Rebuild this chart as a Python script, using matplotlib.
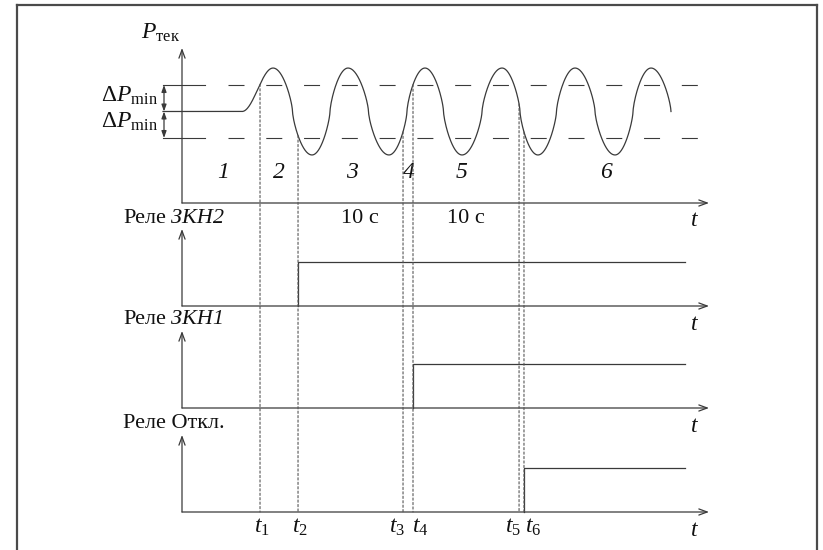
import matplotlib.pyplot as plt
import numpy as np
from matplotlib.patches import ConnectionPatch
from matplotlib.lines import Line2D

plt.rcParams['font.family'] = ['Liberation Serif', 'DejaVu Serif']
plt.rcParams['mathtext.fontset'] = 'custom'
plt.rcParams['mathtext.rm'] = 'Liberation Serif'
plt.rcParams['mathtext.it'] = 'Liberation Serif:italic'

# ---- data (time in s, pressure in units of dP_min around nominal) ----
t_marks = [7.43, 11.05, 21.05, 22.0, 32.1, 32.57]
t_names = ['$t_1$', '$t_2$', '$t_3$', '$t_4$', '$t_5$', '$t_6$']
dp_min = 1.0
flat_start = -1.81
rise_start = 5.71
ext_t = [8.67, 12.38, 15.81, 19.71, 23.14, 26.67, 30.48, 33.90, 37.43, 41.24, 44.67]
ext_p = [1.64, -1.64, 1.64, -1.64, 1.64, -1.64, 1.64, -1.64, 1.64, -1.64, 1.64]
wave_end = 46.57
zone_names = ['1', '2', '3', '4', '5', '6']
zone_t = [3.9, 9.24, 16.19, 21.62, 26.67, 40.38]
relay_names = ['Реле', 'Реле', 'Реле Откл.']
relay_codes = ['ЗКН2', 'ЗКН1', '']
relay_on = [t_marks[1], t_marks[3], t_marks[5]]
relay_end = 47.9
delay_text = ['10 с', '10 с']
delay_t = [16.95, 27.05]

# ---- layout (pixels) ----
W, H = 823, 550
org_x, px_per_s = 182, 10.5
p_mid_px, px_per_dp = 111.5, 26.5
relay_base = [306, 408, 512]
px_per_relay = 44
X0, X1 = (0 - org_x) / px_per_s, (W - org_x) / px_per_s
t_axis_end = (709 - org_x) / px_per_s
line_c = '#3a3a3a'
ink = '#111111'

fig = plt.figure(figsize=(W / 100, H / 100), dpi=100)


def px_axes(top, bot, y_top, y_bot):
    ax = fig.add_axes([0, 1 - bot / H, 1, (bot - top) / H])
    ax.set_xlim(X0, X1)
    ax.set_ylim(y_bot, y_top)
    ax.axis('off')
    ax.patch.set_alpha(0)
    return ax


def arrow(ax, x0, y0, x1, y1, style='->,head_length=0.6,head_width=0.22', ms=10):
    ax.annotate('', xy=(x1, y1), xytext=(x0, y0), annotation_clip=False,
                arrowprops=dict(arrowstyle=style, lw=0.9, color=line_c,
                                shrinkA=0, shrinkB=0, mutation_scale=ms))


def wave_segment(ta, pa, tb, pb, q=0.7, u_end=1.0, n=80):
    u = np.linspace(0, u_end, n)
    c = np.cos(np.pi * u)
    shape = np.sign(c) * np.abs(c) ** q
    mid = (pa + pb) / 2
    return ta + (tb - ta) * u, mid + (pa - mid) * shape


# ---- pressure panel ----
ax1 = px_axes(0, 210, p_mid_px / px_per_dp, (p_mid_px - 210) / px_per_dp)
p_base = (p_mid_px - 203) / px_per_dp
p_tip = (p_mid_px - 48) / px_per_dp

ts = [np.array([flat_start, rise_start])]
ps = [np.array([0.0, 0.0])]
x, y = wave_segment(rise_start, 0.0, ext_t[0], ext_p[0], q=1.0)
ts.append(x); ps.append(y)
for i in range(len(ext_t) - 1):
    x, y = wave_segment(ext_t[i], ext_p[i], ext_t[i + 1], ext_p[i + 1])
    ts.append(x); ps.append(y)
x, y = wave_segment(ext_t[-1], ext_p[-1], 2 * wave_end - ext_t[-1], -ext_p[-1], u_end=0.5)
ts.append(x); ps.append(y)
curve_t = np.concatenate(ts)
curve_p = np.concatenate(ps)
ax1.plot(curve_t, curve_p, color=line_c, lw=0.9, clip_on=False)

# dP_min levels
for lvl in (dp_min, -dp_min):
    ax1.plot([flat_start, (205 - org_x) / px_per_s], [lvl, lvl], color=line_c, lw=0.8)
    ax1.plot([(228 - org_x) / px_per_s, (706 - org_x) / px_per_s], [lvl, lvl],
             color=line_c, lw=0.8, linestyle=(0, (14.4, 19.6)))

# axes
arrow(ax1, 0, p_base, 0, p_tip)
arrow(ax1, 0, p_base, t_axis_end, p_base)
ax1.text((695 - org_x) / px_per_s, (p_mid_px - 221) / px_per_dp, '$t$',
         fontsize=17, ha='center', va='center', color=ink)
ax1.text(-2.0, (p_mid_px - 33) / px_per_dp, r'$P_{\mathrm{тек}}$',
         fontsize=17, ha='center', va='center', color=ink)

# dP_min double arrows and labels
dp_x = (164 - org_x) / px_per_s
for lvl in (dp_min, -dp_min):
    arrow(ax1, dp_x, 0, dp_x, lvl, style='<|-|>,head_length=0.5,head_width=0.18', ms=8)
for ypx in (96, 122):
    ax1.text((158 - org_x) / px_per_s, (p_mid_px - ypx) / px_per_dp,
             r'$\Delta P_{\mathrm{min}}$', fontsize=17, ha='right', va='center', color=ink)

# zone numbers
for name, zt in zip(zone_names, zone_t):
    ax1.text(zt, (p_mid_px - 173) / px_per_dp, name, fontsize=17, style='italic',
             ha='center', va='center', color=ink)

# ---- relay panels ----
relay_axes = []
for name, code, t_on, base in zip(relay_names, relay_codes, relay_on, relay_base):
    ax = px_axes(base - 100, base + 30, 100 / px_per_relay, -30 / px_per_relay)
    relay_axes.append(ax)
    arrow(ax, 0, 0, 0, 77 / px_per_relay)
    arrow(ax, 0, 0, t_axis_end, 0)
    ax.plot([t_on, t_on, relay_end], [0, 1, 1], color=line_c, lw=0.9)
    ax.text((123 - org_x) / px_per_s, 88 / px_per_relay, name, fontsize=16,
            ha='left', va='center', color=ink)
    if code:
        ax.text((171 - org_x) / px_per_s, 88 / px_per_relay, code, fontsize=16,
                style='italic', ha='left', va='center', color=ink)
    ax.text((695 - org_x) / px_per_s, -19 / px_per_relay, '$t$', fontsize=17,
            ha='center', va='center', color=ink)

for txt, dt in zip(delay_text, delay_t):
    relay_axes[0].text(dt, 88 / px_per_relay, txt, fontsize=16,
                       ha='center', va='center', color=ink)

# event markers
ax_last = relay_axes[-1]
label_dx = [2, 2, -6, 7, -6, 9]
for t, name, dx in zip(t_marks, t_names, label_dx):
    p_at = np.interp(t, curve_t, curve_p)
    con = ConnectionPatch(xyA=(t, p_at), coordsA=ax1.transData,
                          xyB=(t, 0), coordsB=ax_last.transData,
                          color='#555555', lw=0.8, linestyle=(0, (2, 2)))
    fig.add_artist(con)
    ax_last.text(t + dx / px_per_s, -15 / px_per_relay, name, fontsize=17,
                 ha='center', va='center', color=ink)

# page frame
for xs, ys in [([17, 17], [5, 560]), ([17, 817], [5, 5]), ([817, 817], [5, 560])]:
    fig.add_artist(Line2D(np.array(xs) / W, 1 - np.array(ys) / H,
                          transform=fig.transFigure, color='#4a4a4a', lw=1.6))

fig.savefig('out.png', dpi=100)
